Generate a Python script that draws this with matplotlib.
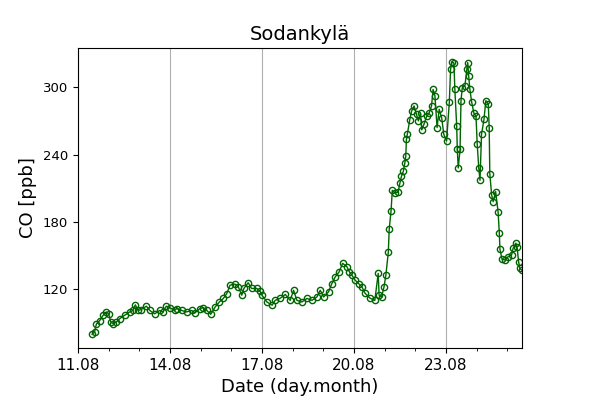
import matplotlib
matplotlib.use("Agg")
import matplotlib.pyplot as plt
from matplotlib.ticker import MultipleLocator, FuncFormatter

# day of August (fractional) and CO mixing ratio
days = [11.46, 11.54, 11.60, 11.71, 11.82, 11.92, 12.00, 12.07, 12.14, 12.25,
        12.36, 12.52, 12.69, 12.79, 12.87, 12.96, 13.06, 13.23, 13.34, 13.50,
        13.66, 13.77, 13.88, 13.99, 14.15, 14.22, 14.38, 14.54, 14.71, 14.81,
        14.98, 15.09, 15.20, 15.33, 15.47, 15.61, 15.74, 15.85, 15.96, 16.12,
        16.23, 16.34, 16.41, 16.55, 16.66, 16.83, 16.93, 17.00, 17.16, 17.33,
        17.43, 17.60, 17.76, 17.92, 18.03, 18.14, 18.30, 18.47, 18.63, 18.79,
        18.90, 19.01, 19.17, 19.28, 19.39, 19.52, 19.63, 19.77, 19.85, 19.93,
        20.04, 20.15, 20.26, 20.36, 20.52, 20.68, 20.79, 20.82, 20.90, 20.98,
        21.04, 21.12, 21.15, 21.21, 21.25, 21.34, 21.44, 21.50, 21.55, 21.61,
        21.66, 21.69, 21.71, 21.74, 21.82, 21.88, 21.96, 22.04, 22.10, 22.17,
        22.21, 22.28, 22.37, 22.45, 22.53, 22.58, 22.64, 22.71, 22.78, 22.86,
        22.93, 23.02, 23.11, 23.15, 23.20, 23.26, 23.29, 23.35, 23.37, 23.40,
        23.46, 23.49, 23.53, 23.62, 23.68, 23.71, 23.74, 23.78, 23.84, 23.91,
        23.98, 24.02, 24.07, 24.11, 24.16, 24.24, 24.30, 24.38, 24.41, 24.43,
        24.49, 24.54, 24.62, 24.70, 24.74, 24.76, 24.83, 24.92, 25.03, 25.14,
        25.19, 25.28, 25.32, 25.37, 25.41, 25.47]
co = [79.7, 81.8, 89.0, 92.0, 96.7, 99.7, 98.0, 90.7, 89.3, 90.7,
      93.7, 96.7, 99.7, 101.0, 106.0, 101.0, 101.8, 104.8, 101.0, 98.0,
      101.0, 99.7, 104.8, 103.6, 101.0, 102.7, 101.0, 99.7, 101.0, 98.8,
      102.7, 103.6, 101.0, 97.6, 104.0, 108.6, 111.7, 116.0, 123.6, 124.5,
      122.0, 114.6, 120.6, 125.7, 120.6, 120.6, 118.5, 114.6, 108.6, 105.7,
      110.0, 112.0, 115.3, 110.0, 119.0, 110.0, 108.6, 111.7, 110.0, 113.0,
      119.0, 113.0, 117.6, 125.0, 131.0, 135.5, 143.0, 140.0, 135.5, 132.5,
      128.0, 125.0, 122.0, 116.4, 112.0, 110.0, 134.0, 114.6, 113.0, 122.0,
      132.5, 153.0, 173.7, 190.0, 208.0, 205.7, 206.4, 214.8, 220.8, 225.0,
      232.6, 238.6, 253.4, 258.0, 271.0, 278.8, 283.3, 275.8, 270.0, 277.0,
      262.0, 266.8, 274.0, 277.0, 283.3, 298.0, 292.4, 264.0, 280.3, 272.8,
      258.0, 252.0, 286.6, 316.0, 322.8, 321.5, 298.0, 265.5, 244.5, 228.0,
      244.5, 288.0, 299.2, 301.5, 316.0, 322.0, 310.2, 298.0, 286.6, 277.0,
      274.0, 249.0, 228.0, 217.0, 258.0, 271.3, 288.0, 285.0, 264.0, 223.0,
      204.0, 198.0, 207.0, 189.0, 170.0, 155.5, 146.6, 146.0, 149.0, 150.4,
      156.4, 161.0, 157.3, 144.4, 138.5, 137.0]
tick_days = [11, 14, 17, 20, 23]

fig, ax = plt.subplots(figsize=(6, 4), dpi=100)
fig.subplots_adjust(left=0.13, right=0.87, bottom=0.13, top=0.88)

ax.plot(days, co, color="darkgreen", linewidth=1, marker="o",
        markersize=4.5, markerfacecolor="none", markeredgewidth=1)

ax.set_xlim(11.0, 25.48)
ax.set_xticks(tick_days)
ax.xaxis.set_minor_locator(MultipleLocator(1))
ax.xaxis.set_major_formatter(FuncFormatter(lambda v, p: "%02d.08" % round(v)))
ax.set_yticks([120, 180, 240, 300])
ax.tick_params(axis="x", labelsize=11)
ax.tick_params(axis="y", labelsize=9.5)
ax.grid(axis="x", which="major", color="#b0b0b0", linewidth=0.8)

ax.set_title("Sodankylä", fontsize=14)
ax.set_xlabel("Date (day.month)", fontsize=13)
ax.set_ylabel("CO [ppb]", fontsize=13)

plt.savefig("out.png")
